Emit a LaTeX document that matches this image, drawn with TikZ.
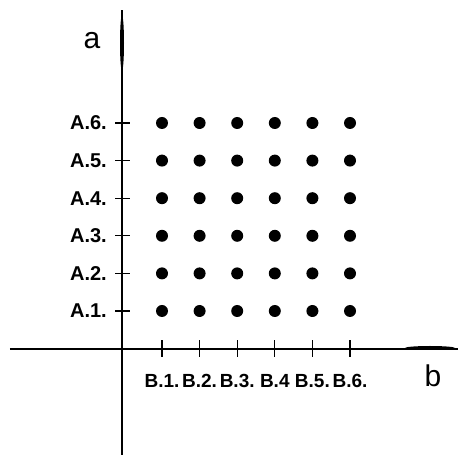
\documentclass[tikz,border=0pt]{standalone}
\usepackage{fontspec}
\setmainfont{Liberation Sans}
\usetikzlibrary{shapes.geometric}
\tikzset{
  axis/.style={line width=1.3pt},
  tick/.style={line width=1.3pt},
  pt/.style={circle, fill=black, inner sep=0pt, minimum size=12pt},
  spindle/.style={ellipse, fill=black, inner sep=0pt},
  lbl/.style={font=\fontsize{19}{21}\selectfont\bfseries, inner sep=0pt},
  axlbl/.style={font=\fontsize{30}{32}\selectfont, inner sep=0pt},
}
\begin{document}
\begin{tikzpicture}[x=1pt,y=1pt]
  \useasboundingbox (-122,-108) rectangle (338,349);
  % axes
  \coordinate (o) at (0,0);
  \coordinate (atop) at (0,339);
  \coordinate (abot) at (0,-106);
  \coordinate (bleft) at (-112,0);
  \coordinate (bright) at (336,0);
  \draw[axis] (abot) -- (atop);
  \draw[axis] (bleft) -- (bright);
  \node[spindle, minimum width=4pt, minimum height=55pt] (ahead) at (0,306) {};
  \node[spindle, minimum width=50pt, minimum height=4pt] (bhead) at (308,1) {};
  \node[axlbl] (alab) at (-30,308) {a};
  \node[axlbl] (blab) at (311,-27) {b};
  % ticks and labels
  \foreach \i in {1,...,6}{
    \coordinate (ta\i) at (0,{38+37.6*(\i-1)});
    \coordinate (tb\i) at ({40+37.6*(\i-1)},0);
    \draw[tick] ([xshift=-7pt]ta\i) -- ([xshift=8pt]ta\i);
    \draw[tick] ([yshift=-8pt]tb\i) -- ([yshift=9pt]tb\i);
    \node[lbl, font=\fontsize{20}{22}\selectfont\bfseries, anchor=east] (la\i) at ([xshift=-15pt]ta\i) {A.\i.};
  }
  \node[lbl] (lb1) at ([yshift=-32pt]tb1) {B.1.};
  \node[lbl] (lb2) at ([yshift=-32pt]tb2) {B.2.};
  \node[lbl] (lb3) at ([yshift=-32pt]tb3) {B.3.};
  \node[lbl] (lb4) at ([yshift=-32pt]tb4) {B.4};
  \node[lbl] (lb5) at ([yshift=-32pt]tb5) {B.5.};
  \node[lbl] (lb6) at ([yshift=-32pt]tb6) {B.6.};
  % grid of points
  \foreach \i in {1,...,6}{\foreach \j in {1,...,6}{%
    \node[pt] (p\i\j) at ({40+37.6*(\j-1)},{38+37.6*(\i-1)}) {};}}
\end{tikzpicture}
\end{document}
